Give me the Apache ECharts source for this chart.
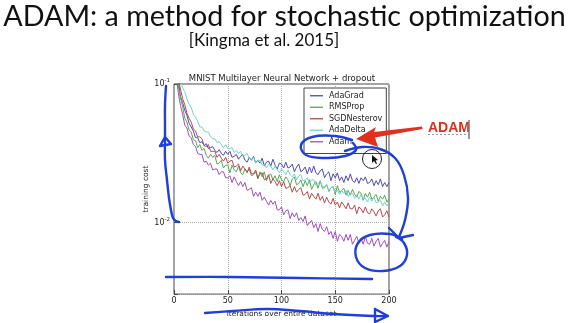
<!DOCTYPE html>
<html><head><meta charset="utf-8">
<script src="https://cdn.jsdelivr.net/npm/echarts@6/dist/echarts.min.js"></script>
<style>html,body{margin:0;padding:0;background:#fff}#c{width:569px;height:323px}</style>
</head><body><div id="c"></div>
<script>
const iterations = [0,2,4,6,8,10,12,14,16,18,20,22,24,26,28,30,32,34,36,38,40,42,44,46,48,50,52,54,56,58,60,62,64,66,68,70,72,74,76,78,80,82,84,86,88,90,92,94,96,98,100,102,104,106,108,110,112,114,116,118,120,122,124,126,128,130,132,134,136,138,140,142,144,146,148,150,152,154,156,158,160,162,164,166,168,170,172,174,176,178,180,182,184,186,188,190,192,194,196,198,200];
const seriesNames = ['AdaGrad','RMSProp','SGDNesterov','AdaDelta','Adam'];
const adagrad = [0.19,0.148,0.107,0.0811,0.0735,0.0646,0.0595,0.0522,0.0490,0.0459,
0.0410,0.0410,0.0378,0.0384,0.0360,0.0372,0.0343,0.0348,0.0354,0.0332,
0.0321,0.0337,0.0316,0.0306,0.0327,0.0311,0.0327,0.0296,0.0301,0.0311,
0.0287,0.0301,0.0311,0.0282,0.0273,0.0296,0.0282,0.0301,0.0269,0.0282,
0.0269,0.0292,0.0256,0.0273,0.0278,0.0256,0.0287,0.0260,0.0244,0.0269,
0.0265,0.0248,0.0273,0.0248,0.0252,0.0265,0.0233,0.0252,0.0265,0.0233,
0.0240,0.0252,0.0225,0.0252,0.0229,0.0256,0.0229,0.0222,0.0237,0.0244,
0.0211,0.0225,0.0233,0.0201,0.0225,0.0211,0.0229,0.0201,0.0214,0.0195,
0.0218,0.0201,0.0225,0.0201,0.0195,0.0211,0.0192,0.0211,0.0201,0.0214,
0.0192,0.0195,0.0207,0.0185,0.0201,0.0188,0.0207,0.0182,0.0195,0.0182,
0.0195];
const rmsprop = [0.25,0.126,0.0968,0.0797,0.0689,0.0567,0.0531,0.0466,0.0451,0.0396,
0.0390,0.0348,0.0366,0.0332,0.0343,0.0306,0.0292,0.0311,0.0296,0.0306,
0.0265,0.0269,0.0282,0.0248,0.0260,0.0260,0.0229,0.0260,0.0240,0.0233,
0.0256,0.0229,0.0222,0.0244,0.0233,0.0244,0.0218,0.0222,0.0233,0.0207,
0.0233,0.0214,0.0233,0.0201,0.0218,0.0225,0.0204,0.0218,0.0198,0.0222,
0.0204,0.0198,0.0214,0.0204,0.0185,0.0207,0.0214,0.0188,0.0192,0.0204,
0.0182,0.0201,0.0185,0.0204,0.0174,0.0188,0.0198,0.0177,0.0201,0.0177,
0.0179,0.0188,0.0168,0.0179,0.0182,0.0160,0.0185,0.0166,0.0171,0.0177,
0.0158,0.0171,0.0158,0.0174,0.0160,0.0153,0.0168,0.0163,0.0145,0.0163,
0.0153,0.0166,0.0148,0.0153,0.0160,0.0143,0.0155,0.0148,0.0158,0.0141,
0.0148];
const sgdnesterov = [0.25,0.136,0.107,0.0922,0.0784,0.0711,0.0615,0.0567,0.0531,0.0474,
0.0459,0.0416,0.0416,0.0403,0.0360,0.0354,0.0366,0.0327,0.0327,0.0327,
0.0296,0.0311,0.0292,0.0278,0.0296,0.0269,0.0278,0.0282,0.0252,0.0256,
0.0265,0.0237,0.0256,0.0244,0.0229,0.0252,0.0225,0.0225,0.0240,0.0211,
0.0225,0.0229,0.0204,0.0207,0.0222,0.0192,0.0207,0.0198,0.0185,0.0201,
0.0182,0.0198,0.0177,0.0179,0.0185,0.0166,0.0182,0.0166,0.0174,0.0179,
0.0158,0.0160,0.0168,0.0148,0.0163,0.0155,0.0148,0.0163,0.0145,0.0155,
0.0139,0.0153,0.0141,0.0136,0.0150,0.0134,0.0141,0.0128,0.0141,0.0134,
0.0126,0.0139,0.0126,0.0126,0.0134,0.0116,0.0130,0.0126,0.0118,0.0130,
0.0118,0.0116,0.0126,0.0120,0.0112,0.0122,0.0126,0.0110,0.0114,0.0122,
0.0110];
const adadelta = [0.3,0.22,0.126,0.107,0.0937,0.0879,0.0784,0.0711,0.0678,0.0605,
0.0576,0.0540,0.0490,0.0490,0.0459,0.0451,0.0451,0.0416,0.0403,0.0403,
0.0378,0.0384,0.0366,0.0348,0.0366,0.0343,0.0343,0.0348,0.0321,0.0332,
0.0316,0.0327,0.0301,0.0306,0.0316,0.0292,0.0287,0.0296,0.0269,0.0282,
0.0282,0.0260,0.0265,0.0248,0.0265,0.0256,0.0240,0.0256,0.0240,0.0229,
0.0244,0.0233,0.0222,0.0240,0.0222,0.0214,0.0225,0.0204,0.0218,0.0222,
0.0201,0.0204,0.0211,0.0192,0.0204,0.0204,0.0185,0.0192,0.0201,0.0182,
0.0182,0.0188,0.0171,0.0179,0.0182,0.0166,0.0171,0.0160,0.0171,0.0163,
0.0171,0.0155,0.0160,0.0163,0.0150,0.0158,0.0148,0.0160,0.0148,0.0150,
0.0141,0.0153,0.0143,0.0153,0.0139,0.0141,0.0145,0.0132,0.0141,0.0132,
0.0139];
const adam = [0.2,0.116,0.0865,0.0700,0.0605,0.0506,0.0482,0.0423,0.0410,0.0366,
0.0354,0.0316,0.0311,0.0311,0.0273,0.0278,0.0260,0.0269,0.0240,0.0244,
0.0244,0.0222,0.0233,0.0233,0.0211,0.0211,0.0218,0.0195,0.0214,0.0198,
0.0185,0.0198,0.0182,0.0195,0.0171,0.0174,0.0179,0.0155,0.0166,0.0155,
0.0166,0.0145,0.0153,0.0143,0.0134,0.0145,0.0136,0.0143,0.0124,0.0124,
0.0130,0.0114,0.0122,0.0124,0.0107,0.0118,0.0110,0.0118,0.0104,0.0109,
0.0102,0.0112,0.00953,0.0100,0.0104,0.00922,0.00985,0.00865,0.00985,0.00893,
0.00865,0.00937,0.00824,0.00865,0.00772,0.00865,0.00735,0.00824,0.00797,0.00735,
0.00824,0.00747,0.00824,0.00700,0.00747,0.00797,0.00711,0.00772,0.00700,0.00797,
0.00711,0.00700,0.00772,0.00678,0.00735,0.00772,0.00667,0.00711,0.00747,0.00667,
0.00735];
const xTicks = [0,50,100,150,200];
const seriesValues = [adagrad, rmsprop, sgdnesterov, adadelta, adam];
const colors = ['#4b4bb4','#5aa55a','#b54a4a','#76d3c4','#a04fb9'];

const chart = echarts.init(document.getElementById('c'), null, {renderer:'canvas'});
const blue = '#1f3fd8';
const bw = 2.4;
function stroke(points, smooth){
  return {type:'polyline', z:200, shape:{points:points, smooth:smooth===undefined?0.4:smooth},
    style:{stroke:blue, lineWidth:bw, fill:null, lineCap:'round', lineJoin:'round'}};
}
const option = {
  animation:false,
  color: colors,
  title:[
    {text:'ADAM: a method for stochastic optimization', left:'center', top:2, padding:0,
     textStyle:{fontFamily:'Lato', fontSize:28.7, fontWeight:'normal', color:'#111'}},
    {text:'[Kingma et al. 2015]', left:264, textAlign:'center', top:32, padding:0,
     textStyle:{fontFamily:'Lato', fontSize:17, fontWeight:'normal', color:'#111'}},
    {text:'MNIST Multilayer Neural Network + dropout', left:282, textAlign:'center', top:74, padding:0,
     textStyle:{fontFamily:'DejaVu Sans', fontSize:8.5, fontWeight:'normal', color:'#222'}}
  ],
  grid:{left:174, right:180, top:84, bottom:24, show:true, borderColor:'#444', borderWidth:1, backgroundColor:'transparent'},
  legend:{
    orient:'vertical', left:304, top:88, padding:[2,4,6,6], itemGap:0, itemWidth:13, itemHeight:1.3,
    icon:'rect',
    backgroundColor:'#fff', borderColor:'#444', borderWidth:1, borderRadius:0,
    textStyle:{fontFamily:'DejaVu Sans', fontSize:8, color:'#222', lineHeight:11.5, padding:[0,0,0,1]},
    data: seriesNames
  },
  xAxis:{
    type:'value', min:xTicks[0], max:xTicks[xTicks.length-1], interval:50,
    name:'iterations over entire dataset', nameLocation:'middle', nameGap:10,
    nameTextStyle:{fontFamily:'DejaVu Sans', fontSize:7.5, color:'#222'},
    axisLine:{show:false}, axisTick:{show:true, inside:true, length:4, lineStyle:{color:'#444'}},
    axisLabel:{fontFamily:'DejaVu Sans', fontSize:8, color:'#222', margin:3},
    splitLine:{show:true, lineStyle:{type:'dotted', color:'#aaa', width:1}}
  },
  yAxis:{
    type:'log', logBase:10, min:0.00306, max:0.1,
    name:'training cost', nameLocation:'middle', nameGap:18,
    nameTextStyle:{fontFamily:'DejaVu Sans', fontSize:7.5, color:'#222'},
    axisLine:{show:false}, axisTick:{show:true, inside:true, length:4, lineStyle:{color:'#444'}},
    axisLabel:{margin:4, fontFamily:'DejaVu Sans', color:'#222',
      formatter:function(v){
        const e = Math.log10(v);
        if (Math.abs(e-Math.round(e))>1e-6) return '';
        return '{b|10}{s|'+Math.round(e)+'}';
      },
      rich:{b:{fontSize:8, fontFamily:'DejaVu Sans', color:'#222'}, s:{fontSize:5.5, fontFamily:'DejaVu Sans', color:'#222', padding:[0,0,6,0]}}
    },
    splitLine:{show:true, lineStyle:{type:'dotted', color:'#aaa', width:1}}
  },
  series: seriesNames.map(function(n, k){
    return {name:n, type:'line', symbol:'none', showSymbol:false, clip:true,
      lineStyle:{width:1}, data: iterations.map(function(x,i){return [x, seriesValues[k][i]];})};
  }),
  graphic:[
    {type:'polygon', z:210, shape:{points:[[356,139],[376,127],[374,132],[422,126.5],[422.5,129],[375,137.5],[378,147]]}, style:{fill:'#e2301c'}},
    {type:'text', z:210, left:428, top:121, style:{text:'ADAM', font:'bold 14px "Liberation Sans"', fill:'#d9321e'}},
    {type:'line', z:210, shape:{x1:428,y1:134.5,x2:467,y2:134.5}, style:{stroke:'#999', lineWidth:1, lineDash:[2,2]}},
    {type:'line', z:210, shape:{x1:469,y1:120,x2:469,y2:139}, style:{stroke:'#777', lineWidth:1.5}},
    {type:'circle', z:210, shape:{cx:372, cy:159, r:9.5}, style:{stroke:'#222', lineWidth:1, fill:null}},
    {type:'polygon', z:211, shape:{points:[[372,155],[372,163],[374,161],[376,164],[377,163.5],[375.5,160.5],[378,160]]}, style:{fill:'#111'}},
    stroke([[166,86],[165,105],[165,125],[165,140],[165,160],[167,180],[169,198],[171,210],[173,218],[176,221],[179,222]]),
    stroke([[160,146],[165,137],[171,144],[160,146]],0),
    stroke([[166,277],[230,277],[300,278],[372,279]]),
    stroke([[205,313],[233,311],[267,309],[300,311],[333,314],[373,316],[387,316]]),
    stroke([[375,309],[388,316],[375,322],[375,309]],0),
    stroke([[352,140],[335,136],[312,137],[301,145],[306,155],[325,158],[345,156],[356,150],[353,143]]),
    stroke([[345,151],[362,147],[380,149],[395,158],[404,175],[408,198],[405,220],[399,237]]),
    stroke([[389,228],[399,238],[413,235]],0),
    stroke([[402,239],[390,234],[370,235],[358,243],[356,257],[365,268],[383,271],[400,266],[407,255],[404,243],[396,237]])
  ]
};
chart.setOption(option);
</script></body></html>
